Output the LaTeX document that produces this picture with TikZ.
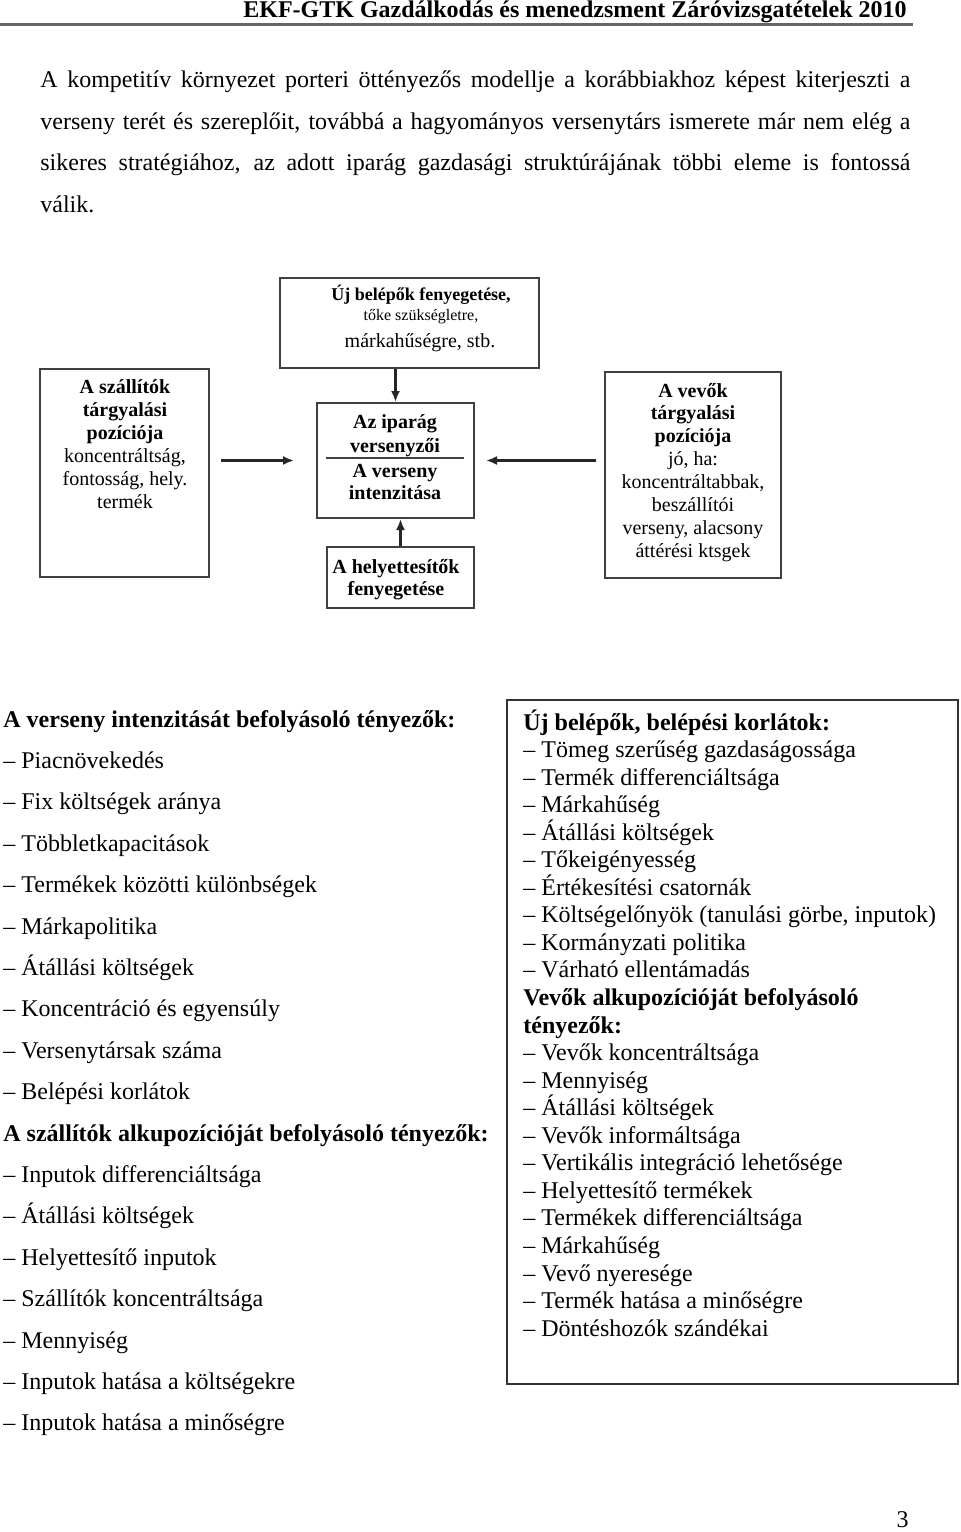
\documentclass[tikz,border=0pt]{standalone}
\usepackage{fontspec}
\setmainfont{Liberation Serif}
\usetikzlibrary{arrows.meta,positioning,calc}

\tikzset{
  doboz/.style={draw=black!75, line width=1pt, inner sep=0pt},
  dobozszoveg/.style={anchor=base, inner sep=0pt, font=\fontsize{10}{12}\selectfont},
  nyil/.style={-{Latex[length=5.5pt,width=4.5pt]}, line width=1.1pt, black!85},
  lista/.style={anchor=base west, inner sep=0pt, font=\fontsize{12}{14}\selectfont},
}

\begin{document}
\begin{tikzpicture}[x=0.5pt, y=-0.5pt]
  \useasboundingbox (0,0) rectangle (960,1532);

  % Header
  \node[anchor=base east, inner sep=0pt, font=\bfseries\fontsize{12}{14}\selectfont] (fejlec) at (907,17.5) {EKF-GTK Gazdálkodás és menedzsment Záróvizsgatételek 2010};
  \coordinate (vonal-bal) at (0,24);
  \coordinate (vonal-jobb) at (913,24);
  \draw[line width=1.5pt, black!60] (vonal-bal) -- (vonal-jobb);

  % Paragraph (justified lines)
  \foreach \sor/\y [count=\i] in {
      {A kompetitív környezet porteri öttényezős modellje a korábbiakhoz képest kiterjeszti a}/87,
      {verseny terét és szereplőit, továbbá a hagyományos versenytárs ismerete már nem elég a}/129,
      {sikeres stratégiához, az adott iparág gazdasági struktúrájának többi eleme is fontossá}/170}
    \node[lista] (bekezdes-\i) at (40,\y) {\makebox[435pt][s]{\sor}};
  \node[lista] (bekezdes-4) at (40,212) {válik.};

  % Boxes of the five forces
  \node[doboz, minimum width=129.5pt, minimum height=45pt] (belepo) at (409.5,323) {};
  \node[doboz, minimum width=84.5pt, minimum height=104pt] (szallito) at (124.5,473) {};
  \node[doboz, minimum width=78.5pt, minimum height=57.5pt] (iparag) at (395.5,460.5) {};
  \node[doboz, minimum width=73.5pt, minimum height=30.5pt] (helyettesito) at (400.5,577.5) {};
  \node[doboz, minimum width=88pt, minimum height=103pt] (vevo) at (693,475) {};

  % Top box text
  \node[dobozszoveg, font=\bfseries\fontsize{9}{11}\selectfont] (belepo-1) at (421,300) {Új belépők fenyegetése,};
  \node[dobozszoveg, font=\fontsize{8}{10}\selectfont] (belepo-2) at (421,320) {tőke szükségletre,};
  \node[dobozszoveg] (belepo-3) at (420,347) {márkahűségre, stb.};

  % Left box text
  \foreach \sor [count=\i] in {{\bfseries A szállítók}, {\bfseries tárgyalási}, {\bfseries pozíciója},
      {koncentráltság,}, {fontosság, hely.}, termék}
    \node[dobozszoveg] (szallito-\i) at (125,{393+23.1*(\i-1)}) {\sor};

  % Centre box text
  \foreach \sor/\y [count=\i] in {Az iparág/428, versenyzői/452, A verseny/477, intenzitása/499}
    \node[dobozszoveg, font=\bfseries\fontsize{10}{12}\selectfont] (iparag-\i) at (395,\y) {\sor};
  \draw[line width=0.8pt, black!75] ($(iparag.west)+(10,-2.5)$) -- ($(iparag.east)+(-11,-2.5)$);

  % Bottom box text
  \node[dobozszoveg, font=\bfseries\fontsize{10}{12}\selectfont] (helyettesito-1) at (396,573) {A helyettesítők};
  \node[dobozszoveg, font=\bfseries\fontsize{10}{12}\selectfont] (helyettesito-2) at (396,595) {fenyegetése};

  % Right box text
  \foreach \sor [count=\i] in {{\bfseries A vevők}, {\bfseries tárgyalási}, {\bfseries pozíciója},
      {jó, ha:}, {koncentráltabbak,}, beszállítói, {verseny, alacsony}, áttérési ktsgek}
    \node[dobozszoveg] (vevo-\i) at (693,{397+22.9*(\i-1)}) {\sor};

  % Arrows
  \draw[nyil] (belepo.south -| iparag.north) -- (iparag.north);
  \draw[nyil] (helyettesito.north) -- (helyettesito.north |- iparag.south);
  \draw[nyil, shorten <=5.5pt, shorten >=11pt] (szallito.east |- iparag.west) -- (iparag.west);
  \draw[nyil, shorten <=4pt, shorten >=5.5pt] (vevo.west |- iparag.east) -- (iparag.east);

  % Left list
  \foreach \sor [count=\i] in {{\bfseries A verseny intenzitását befolyásoló tényezők:},
      – Piacnövekedés, – Fix költségek aránya, – Többletkapacitások,
      – Termékek közötti különbségek, – Márkapolitika, – Átállási költségek,
      – Koncentráció és egyensúly, – Versenytársak száma, – Belépési korlátok,
      {\bfseries A szállítók alkupozícióját befolyásoló tényezők:},
      – Inputok differenciáltsága, – Átállási költségek, – Helyettesítő inputok,
      – Szállítók koncentráltsága, – Mennyiség, – Inputok hatása a költségekre,
      – Inputok hatása a minőségre}
    \node[lista] (verseny-\i) at (3,{727+41.4*(\i-1)}) {\sor};

  % Right list in frame
  \node[doboz, draw=black!80, minimum width=225.5pt, minimum height=342pt] (keret) at (732.5,1042) {};
  \foreach \sor [count=\i] in {{\bfseries Új belépők, belépési korlátok:},
      – Tömeg szerűség gazdaságossága, – Termék differenciáltsága, – Márkahűség,
      – Átállási költségek, – Tőkeigényesség, – Értékesítési csatornák,
      {– Költségelőnyök (tanulási görbe, inputok)}, – Kormányzati politika,
      – Várható ellentámadás,
      {\bfseries Vevők alkupozícióját befolyásoló}, {\bfseries tényezők:},
      – Vevők koncentráltsága, – Mennyiség, – Átállási költségek,
      – Vevők informáltsága, – Vertikális integráció lehetősége,
      – Helyettesítő termékek, – Termékek differenciáltsága, – Márkahűség,
      – Vevő nyeresége, – Termék hatása a minőségre, – Döntéshozók szándékai}
    \node[lista] (vevolista-\i) at (523,{730+27.55*(\i-1)}) {\sor};

  % Page number
  \node[anchor=base east, inner sep=0pt, font=\fontsize{12}{14}\selectfont] (oldalszam) at (909,1527) {3};
\end{tikzpicture}
\end{document}
